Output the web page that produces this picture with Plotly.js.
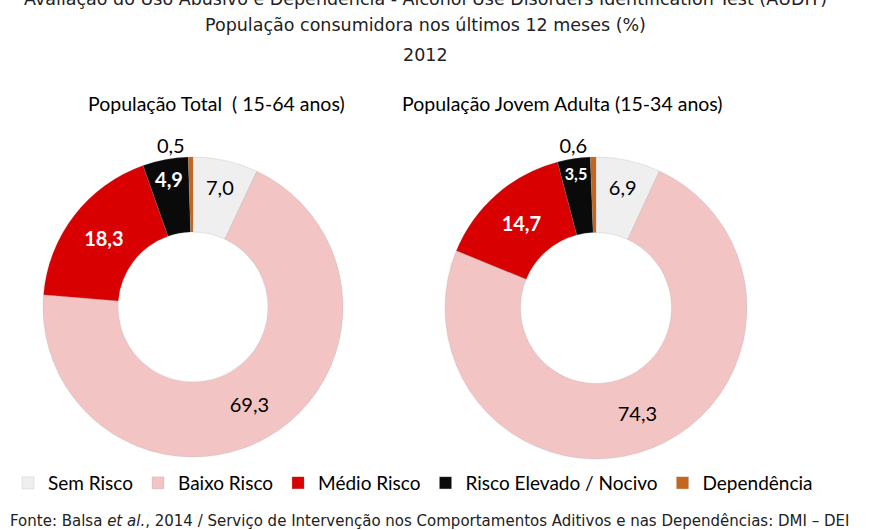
<!DOCTYPE html>
<html>
<head>
<meta charset="utf-8">
<script src="https://cdn.plot.ly/plotly-3.0.1.min.js"></script>
<style>
html,body{margin:0;padding:0;background:#fff;}
#chart{width:874px;height:530px;}
</style>
</head>
<body>
<div id="chart"></div>
<script>
// ---- data ----
var categories = ['Sem Risco', 'Baixo Risco', 'Médio Risco', 'Risco Elevado / Nocivo', 'Dependência'];
var valuesTotal = [7.0, 69.3, 18.3, 4.9, 0.5];
var valuesJovem = [6.9, 74.3, 14.7, 3.5, 0.6];
var pieTitles = ['População Total  ( 15-64 anos)', 'População Jovem Adulta (15-34 anos)'];
var chartTitle1 = 'Avaliação do Uso Abusivo e Dependência - Alcohol Use Disorders Identification Test (AUDIT)';
var chartTitle2 = 'População consumidora nos últimos 12 meses (%)';
var chartYear = '2012';
var sourceNote = 'Fonte: Balsa <i>et al.</i>, 2014 / Serviço de Intervenção nos Comportamentos Aditivos e nas Dependências: DMI – DEI';

// ---- styles ----
var W = 874, H = 530;
var colors = ['#efefef', '#f2c5c4', '#d80000', '#0a0a0a', '#c4661d'];
var textColors = ['#000000', '#000000', '#ffffff', '#ffffff', '#000000'];
var textWeights = [400, 400, 700, 700, 400];
var textPos = ['inside', 'inside', 'inside', 'inside', 'outside'];
var labelFont = 'Lato, "Open Sans", sans-serif';
var narrowFont = '"Liberation Sans Narrow", Lato, sans-serif';
var titleFont = '"DejaVu Sans", sans-serif';
var fontsTotal = [labelFont, labelFont, labelFont, labelFont, labelFont];
var fontsJovem = [labelFont, labelFont, labelFont, narrowFont, labelFont];

function domainFor(cx, cy, r) {
  return {
    x: [(cx - r) / W, (cx + r) / W],
    y: [1 - (cy + r) / H, 1 - (cy - r) / H]
  };
}

function pieTrace(values, dom, showLegend, fams) {
  return {
    type: 'pie',
    labels: categories,
    values: values,
    sort: false,
    direction: 'clockwise',
    rotation: 0,
    hole: 0.5,
    domain: dom,
    showlegend: showLegend,
    marker: {colors: colors, line: {color: 'rgba(150,150,150,0.35)', width: 0.6}},
    texttemplate: '%{value:.1f}',
    textposition: textPos,
    insidetextorientation: 'horizontal',
    textfont: {family: fams, size: 20, color: textColors, weight: textWeights},
    hoverinfo: 'label+value'
  };
}

var data = [
  pieTrace(valuesTotal, domainFor(193, 307, 150), true, fontsTotal),
  pieTrace(valuesJovem, domainFor(596, 308, 151), false, fontsJovem)
];

function py(px) { return 1 - px / H; }

var layout = {
  width: W, height: H,
  margin: {l: 0, r: 0, t: 0, b: 0},
  paper_bgcolor: '#ffffff',
  separators: ',.',
  showlegend: true,
  legend: {
    orientation: 'h',
    x: 8 / W, xanchor: 'left',
    y: py(483), yanchor: 'middle',
    font: {family: labelFont, size: 19, color: '#000'},
    traceorder: 'normal',
    itemclick: false
  },
  annotations: [
    {text: chartTitle1, x: 0.487, y: py(-1), xref: 'paper', yref: 'paper', xanchor: 'center', yanchor: 'middle', showarrow: false, font: {family: titleFont, size: 17.5, color: '#222'}},
    {text: chartTitle2, x: 0.487, y: py(25), xref: 'paper', yref: 'paper', xanchor: 'center', yanchor: 'middle', showarrow: false, font: {family: titleFont, size: 17.5, color: '#222'}},
    {text: chartYear, x: 0.487, y: py(55), xref: 'paper', yref: 'paper', xanchor: 'center', yanchor: 'middle', showarrow: false, font: {family: titleFont, size: 17.5, color: '#222'}},
    {text: pieTitles[0], x: 216 / W, y: py(103), xref: 'paper', yref: 'paper', xanchor: 'center', yanchor: 'middle', showarrow: false, font: {family: labelFont, size: 19.5, color: '#000'}},
    {text: pieTitles[1], x: 562 / W, y: py(103), xref: 'paper', yref: 'paper', xanchor: 'center', yanchor: 'middle', showarrow: false, font: {family: labelFont, size: 19.5, color: '#000'}},
    {text: sourceNote, x: 8 / W, y: py(521), xref: 'paper', yref: 'paper', xanchor: 'left', yanchor: 'middle', showarrow: false, font: {family: titleFont, size: 15, color: '#222'}}
  ]
};

Plotly.newPlot('chart', data, layout, {displayModeBar: false, staticPlot: true});
</script>
</body>
</html>
